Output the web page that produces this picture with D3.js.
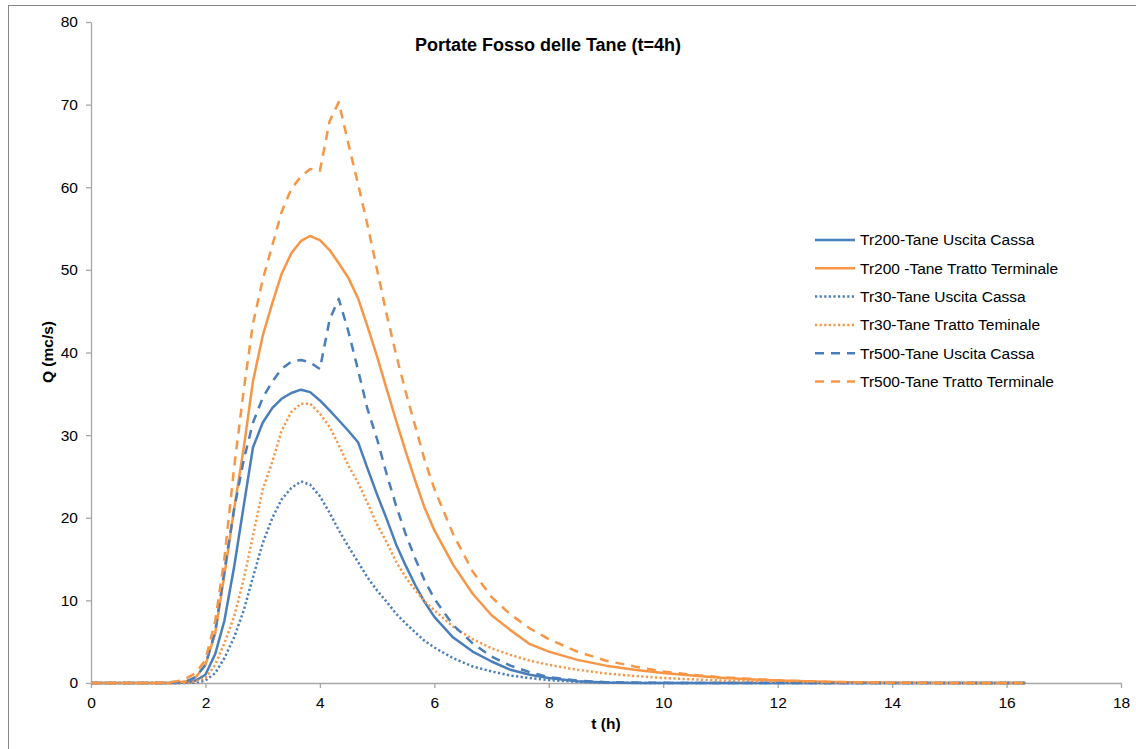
<!DOCTYPE html>
<html>
<head>
<meta charset="utf-8">
<script src="https://cdn.jsdelivr.net/npm/d3@7"></script>
<style>
body { margin: 0; background: #fff; }
text { font-family: "Liberation Sans", Arial, sans-serif; }
</style>
</head>
<body>
<svg id="chart" width="1136" height="749"></svg>
<script>
// time (h)
const times = [0, 0.5, 1.0, 1.33, 1.5, 1.67, 1.83, 2.0, 2.17, 2.33, 2.5, 2.67, 2.83, 3.0, 3.17, 3.33, 3.5, 3.67, 3.83, 4.0,
  4.17, 4.33, 4.5, 4.67, 4.83, 5.0, 5.17, 5.33, 5.5, 5.67, 5.83, 6.0, 6.33, 6.67, 7.0, 7.33, 7.67, 8.0, 8.5, 9.0,
  9.5, 10, 10.5, 11, 11.5, 12, 12.5, 13, 13.5, 14, 15, 16, 16.33];

const tr200Uscita = [0, 0, 0, 0, 0, 0.05, 0.3, 1.0, 3.5, 7.5, 14, 21.5, 28.5, 31.5, 33.3, 34.4, 35.1, 35.5, 35.2, 34.2,
  33.0, 31.8, 30.5, 29.1, 26, 22.8, 19.8, 16.8, 14.2, 11.8, 9.8, 8.0, 5.5, 3.8, 2.6, 1.6, 1.0, 0.6, 0.2, 0.05,
  0, 0, 0, 0, 0, 0, 0, 0, 0, 0, 0, 0, 0];
const tr200Tratto = [0, 0, 0, 0, 0.05, 0.2, 0.7, 2.2, 6.0, 13, 21, 28.5, 36.5, 42, 46, 49.5, 52, 53.5, 54.1, 53.6,
  52.4, 50.8, 49, 46.5, 43.2, 39.5, 35.5, 31.8, 28, 24.4, 21.2, 18.5, 14.3, 10.8, 8.2, 6.4, 4.7, 3.8, 2.8, 2.1,
  1.6, 1.2, 0.9, 0.65, 0.45, 0.3, 0.2, 0.12, 0.06, 0.03, 0.01, 0, 0];
const tr30Uscita = [0, 0, 0, 0, 0, 0, 0.05, 0.3, 1.2, 3.0, 5.5, 8.8, 12.8, 16.9, 20, 22.2, 23.6, 24.4, 24.0, 22.6,
  20.6, 18.5, 16.5, 14.6, 12.8, 11.2, 9.8, 8.4, 7.2, 6.1, 5.1, 4.3, 3.0, 2.0, 1.4, 0.9, 0.6, 0.35, 0.15, 0.05,
  0.02, 0, 0, 0, 0, 0, 0, 0, 0, 0, 0, 0, 0];
const tr30Tratto = [0, 0, 0, 0, 0, 0.05, 0.2, 0.6, 2.2, 4.8, 8.0, 12.6, 17.8, 23.4, 26.8, 30.5, 32.8, 33.8, 33.8, 32.6,
  31.0, 28.8, 26.3, 24.2, 21.8, 19.2, 17.0, 14.7, 12.8, 11.2, 9.9, 8.8, 6.8, 5.3, 4.2, 3.4, 2.7, 2.2, 1.6, 1.15,
  0.85, 0.6, 0.45, 0.3, 0.2, 0.15, 0.1, 0.05, 0.02, 0, 0, 0, 0];
const tr500Uscita = [0, 0, 0, 0, 0.05, 0.2, 0.7, 2.2, 6.2, 13.5, 21, 27, 31.5, 34.5, 36.5, 38, 38.9, 39.1, 38.8, 38.0,
  44, 46.5, 42.5, 37.8, 33.2, 29.5, 25.2, 21.5, 18, 15, 12.4, 10.2, 7.0, 4.8, 3.2, 2.1, 1.3, 0.7, 0.3, 0.1,
  0.05, 0.02, 0, 0, 0, 0, 0, 0, 0, 0, 0, 0, 0];
const tr500Tratto = [0, 0, 0, 0.05, 0.2, 0.6, 1.2, 2.8, 7.5, 15, 26, 35.5, 43.5, 48.8, 53, 57, 59.8, 61.3, 62.2, 62.0,
  68.0, 70.3, 65.2, 60.3, 55.5, 50, 44.5, 39.8, 35.2, 31.0, 27.0, 23.5, 18, 13.5, 10.4, 8.3, 6.6, 5.3, 3.8, 2.7,
  2.0, 1.4, 1.0, 0.7, 0.5, 0.32, 0.2, 0.12, 0.07, 0.03, 0.01, 0, 0];

const seriesNames = ["Tr200-Tane Uscita Cassa", "Tr200 -Tane Tratto Terminale", "Tr30-Tane Uscita Cassa",
  "Tr30-Tane Tratto Teminale", "Tr500-Tane Uscita Cassa", "Tr500-Tane Tratto Terminale"];
const seriesValues = [tr200Uscita, tr200Tratto, tr30Uscita, tr30Tratto, tr500Uscita, tr500Tratto];

const xTicks = [0, 2, 4, 6, 8, 10, 12, 14, 16, 18];
const yTicks = [0, 10, 20, 30, 40, 50, 60, 70, 80];
const titleText = "Portate Fosso delle Tane (t=4h)";
const xTitle = "t (h)";
const yTitle = "Q (mc/s)";

const BLUE = "#4A7EBB", ORANGE = "#F79646";
const styles = [
  { color: BLUE, dash: null },
  { color: ORANGE, dash: null },
  { color: BLUE, dash: "2.2,2.4" },
  { color: ORANGE, dash: "2.2,2.4" },
  { color: BLUE, dash: "9,7" },
  { color: ORANGE, dash: "9,7" }
];

const svg = d3.select("#chart");
svg.append("rect").attr("x", 8.5).attr("y", 5.5).attr("width", 1150).attr("height", 780)
  .attr("fill", "#fff").attr("stroke", "#868686").attr("stroke-width", 1);

const x = d3.scaleLinear().domain([0, 18]).range([91, 1121]);
const y = d3.scaleLinear().domain([0, 80]).range([683, 22]);

// axes
const xAxis = svg.append("g").attr("transform", "translate(0,683)")
  .call(d3.axisBottom(x).tickValues(xTicks).tickSize(5).tickSizeOuter(0).tickFormat(d3.format("d")));
const yAxis = svg.append("g").attr("transform", "translate(91,0)")
  .call(d3.axisLeft(y).tickValues(yTicks).tickSize(5).tickSizeOuter(0).tickFormat(d3.format("d")));
[xAxis, yAxis].forEach(g => {
  g.select(".domain").attr("stroke", "#A6A6A6").attr("stroke-width", 1.3);
  g.selectAll(".tick line").attr("stroke", "#A6A6A6").attr("stroke-width", 1.3);
  g.selectAll(".tick text").attr("fill", "#000").style("font-size", "15.5px")
    .style("font-family", "'Liberation Sans', Arial, sans-serif");
});
xAxis.selectAll(".tick text").attr("dy", "0.71em").attr("y", 14);
yAxis.selectAll(".tick text").attr("x", -13);

// lines
const line = d3.line().x(d => x(d[0])).y(d => y(d[1]));
seriesValues.forEach((vals, i) => {
  const pts = times.map((t, k) => [t, vals[k]]);
  const p = svg.append("path").datum(pts).attr("d", line)
    .attr("fill", "none").attr("stroke", styles[i].color).attr("stroke-width", 2.5)
    .attr("stroke-linejoin", "round");
  if (styles[i].dash) p.attr("stroke-dasharray", styles[i].dash);
});

// title
svg.append("text").attr("x", 548).attr("y", 51).attr("text-anchor", "middle")
  .style("font-size", "18px").style("font-weight", "bold").text(titleText);
svg.append("text").attr("x", 606).attr("y", 729).attr("text-anchor", "middle")
  .style("font-size", "15.5px").style("font-weight", "bold").text(xTitle);
svg.append("text").attr("transform", "translate(53,352) rotate(-90)").attr("text-anchor", "middle")
  .style("font-size", "15.5px").style("font-weight", "bold").text(yTitle);

// legend
const leg = svg.append("g");
seriesNames.forEach((name, i) => {
  const yy = 240 + i * 28.3;
  const l = leg.append("line").attr("x1", 815).attr("x2", 855).attr("y1", yy).attr("y2", yy)
    .attr("stroke", styles[i].color).attr("stroke-width", 2.5);
  if (styles[i].dash) l.attr("stroke-dasharray", styles[i].dash);
  leg.append("text").attr("x", 860).attr("y", yy).attr("dy", "0.35em")
    .style("font-size", "15.5px").text(name);
});
</script>
</body>
</html>
